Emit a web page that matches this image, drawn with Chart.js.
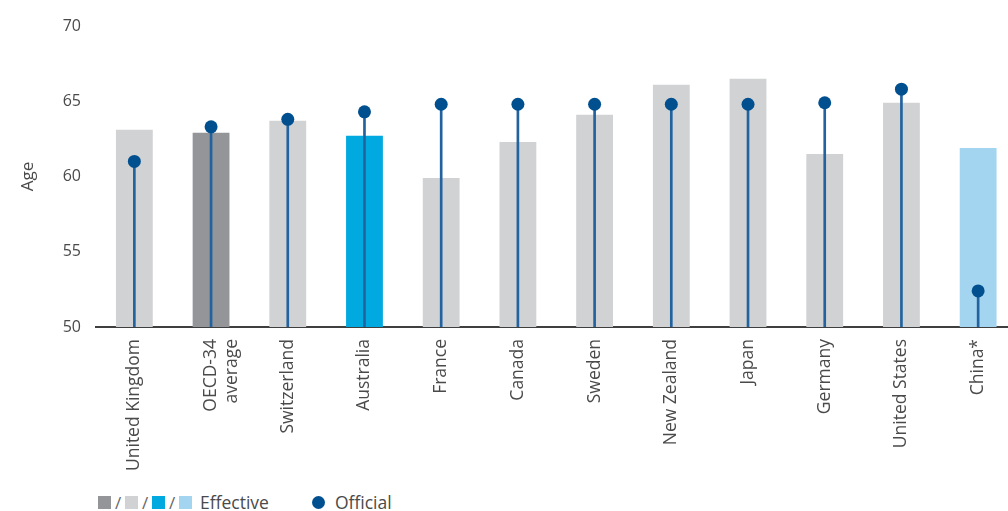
<!DOCTYPE html>
<html>
<head>
<meta charset="utf-8">
<script src="https://cdn.jsdelivr.net/npm/chart.js@4/dist/chart.umd.min.js"></script>
<style>
  html, body { margin: 0; padding: 0; background: #ffffff; overflow: hidden; }
  body { width: 1008px; height: 511px; position: relative; font-family: "Open Sans", sans-serif; }
  #wrap { position: absolute; left: 0; top: 0; }
  .legend { position: absolute; top: 492px; left: 98px; height: 20px; display: flex; align-items: center;
            font-size: 17.5px; color: #4a4a4a; }
  .sw { display: inline-block; width: 13px; height: 13px; }
  .sl { display: inline-block; width: 14px; text-align: center; color: #666; font-size: 17px; }
  .dot { display: inline-block; width: 13px; height: 13px; border-radius: 50%; background: #00508f; }
</style>
</head>
<body>
<div id="wrap"><canvas id="c" width="1023" height="484"></canvas></div>
<div class="legend">
  <span class="sw" style="background:#939598"></span><span class="sl">/</span>
  <span class="sw" style="background:#d1d2d4"></span><span class="sl">/</span>
  <span class="sw" style="background:#00a9e0"></span><span class="sl">/</span>
  <span class="sw" style="background:#a3d5f0"></span>
  <span style="margin-left:8px">Effective</span>
  <span class="dot" style="margin-left:43px"></span>
  <span style="margin-left:10px">Official</span>
</div>
<script>
// Retirement ages by country
const countries = ['United Kingdom', ['OECD-34', 'average'], 'Switzerland', 'Australia', 'France', 'Canada',
                   'Sweden', 'New Zealand', 'Japan', 'Germany', 'United States', 'China*'];
const effectiveAge = [63.1, 62.9, 63.7, 62.7, 59.9, 62.3, 64.1, 66.1, 66.5, 61.5, 64.9, 61.9];
const officialAge  = [61.0, 63.3, 63.8, 64.3, 64.8, 64.8, 64.8, 64.8, 64.8, 64.9, 65.8, 52.4];
const yTicks = [50, 55, 60, 65, 70];

const barColors = ['#d1d2d4', '#939598', '#d1d2d4', '#00a9e0', '#d1d2d4', '#d1d2d4',
                   '#d1d2d4', '#d1d2d4', '#d1d2d4', '#d1d2d4', '#d1d2d4', '#a3d5f0'];

const CANVAS_H = 484;
const CHART_LEFT = 96;
const CHART_BOTTOM = 327;
const TEXT = '#4a4a4a';

new Chart(document.getElementById('c'), {
  type: 'bar',
  data: {
    labels: countries,
    datasets: [
      {
        label: 'Effective',
        data: effectiveAge,
        backgroundColor: barColors,
        barPercentage: 0.48,
        categoryPercentage: 1,
        grouped: false,
        order: 3
      },
      {
        label: 'Official stem',
        data: officialAge,
        backgroundColor: '#22629e',
        barThickness: 2,
        grouped: false,
        order: 2
      },
      {
        type: 'line',
        label: 'Official',
        data: officialAge,
        showLine: false,
        pointRadius: 6.5,
        pointHoverRadius: 6.5,
        pointBackgroundColor: '#00508f',
        pointBorderWidth: 0,
        order: 1
      }
    ]
  },
  options: {
    responsive: false,
    animation: false,
    events: [],
    layout: { padding: { top: 26, right: 0, left: 0, bottom: 0 } },
    plugins: { legend: { display: false }, tooltip: { enabled: false } },
    scales: {
      x: {
        offset: true,
        grid: { display: false, drawTicks: false },
        border: { display: true, color: '#3f3f3f', width: 2 },
        ticks: {
          minRotation: 90, maxRotation: 90, autoSkip: false,
          padding: 12,
          color: TEXT,
          font: { family: 'Open Sans', size: 17.5 }
        },
        afterFit(scale) { scale.height = CANVAS_H - CHART_BOTTOM; }
      },
      y: {
        min: 50, max: 70,
        afterBuildTicks(scale) { scale.ticks = yTicks.map(v => ({ value: v })); },
        grid: { display: false, drawTicks: false },
        border: { display: false },
        ticks: { padding: 15, color: TEXT, font: { family: 'Open Sans', size: 16 } },
        title: { display: true, text: 'Age', color: TEXT, font: { family: 'Open Sans', size: 17 },
                 padding: { top: 18, bottom: 0 } },
        afterFit(scale) { scale.width = CHART_LEFT; }
      }
    }
  }
});
</script>
</body>
</html>
